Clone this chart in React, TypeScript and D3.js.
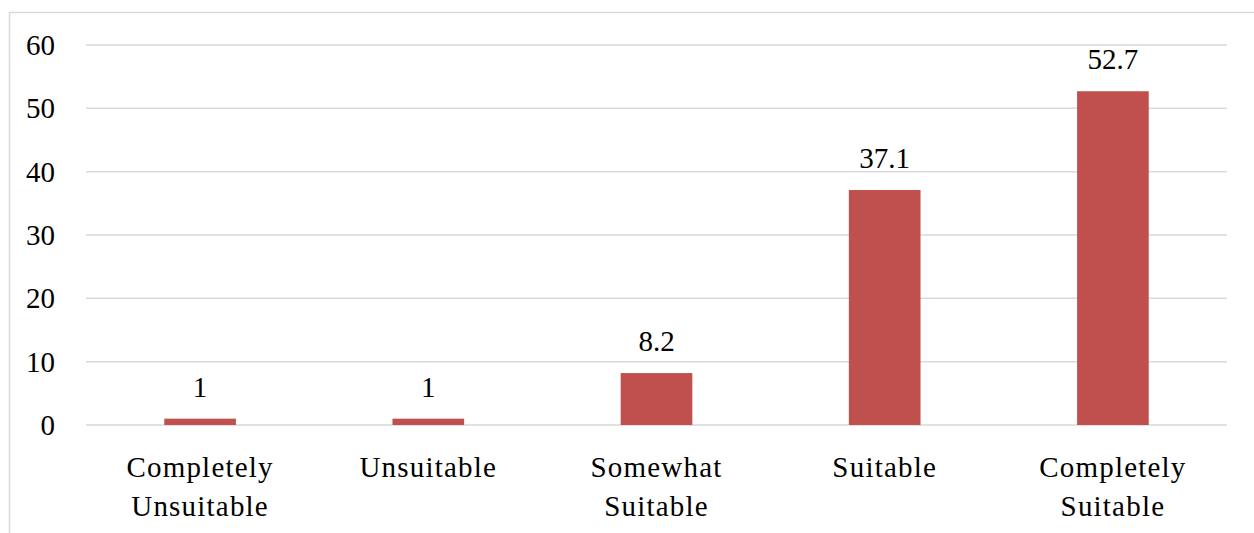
import React from "react";
import * as d3 from "d3";

const categories: string[][] = [
  ["Completely", "Unsuitable"],
  ["Unsuitable"],
  ["Somewhat", "Suitable"],
  ["Suitable"],
  ["Completely", "Suitable"],
];
const values: number[] = [1, 1, 8.2, 37.1, 52.7];
const valueLabels: string[] = ["1", "1", "8.2", "37.1", "52.7"];
const yTicks: number[] = [0, 10, 20, 30, 40, 50, 60];

const W = 1254;
const H = 533;
const plotLeft = 86;
const plotRight = 1227;
const plotTop = 45;
const plotBottom = 425;
const FONT = "'Liberation Serif', 'Times New Roman', serif";
const BAR = "#C0504D";
const GRID = "#D9D9D9";

export default function App() {
  const x = d3
    .scaleBand<number>()
    .domain(values.map((_, i) => i))
    .range([plotLeft, plotRight])
    .paddingInner(0.686)
    .paddingOuter(0.343);
  const y = d3.scaleLinear().domain([0, 60]).range([plotBottom, plotTop]);
  const band = (plotRight - plotLeft) / values.length;

  return (
    <svg
      width={W}
      height={H}
      style={{ position: "absolute", left: 0, top: 0, background: "#fff" }}
    >
      <rect x={0} y={0} width={W} height={H} fill="#fff" />
      {/* chart frame */}
      <line x1={9.5} y1={12.5} x2={W} y2={12.5} stroke={GRID} strokeWidth={1.5} />
      <line x1={9.5} y1={12.5} x2={9.5} y2={H} stroke={GRID} strokeWidth={1.5} />

      {yTicks.map((t) => (
        <g key={t}>
          <line
            x1={plotLeft}
            x2={plotRight}
            y1={y(t)}
            y2={y(t)}
            stroke={GRID}
            strokeWidth={1.5}
          />
          <text
            x={55}
            y={y(t) + 10}
            textAnchor="end"
            fontFamily={FONT}
            fontSize={29}
            fill="#000"
          >
            {t}
          </text>
        </g>
      ))}

      {values.map((v, i) => (
        <g key={i}>
          <rect
            x={x(i)}
            y={y(v)}
            width={x.bandwidth()}
            height={y(0) - y(v)}
            fill={BAR}
          />
          <text
            x={(x(i) as number) + x.bandwidth() / 2}
            y={y(v) - 22}
            textAnchor="middle"
            fontFamily={FONT}
            fontSize={29}
            fill="#000"
          >
            {valueLabels[i]}
          </text>
          <text
            x={plotLeft + band * (i + 0.5)}
            y={477}
            textAnchor="middle"
            fontFamily={FONT}
            fontSize={29}
            letterSpacing={1.2}
            fill="#000"
          >
            {categories[i].map((line, j) => (
              <tspan key={j} x={plotLeft + band * (i + 0.5)} dy={j === 0 ? 0 : 39}>
                {line}
              </tspan>
            ))}
          </text>
        </g>
      ))}
    </svg>
  );
}
